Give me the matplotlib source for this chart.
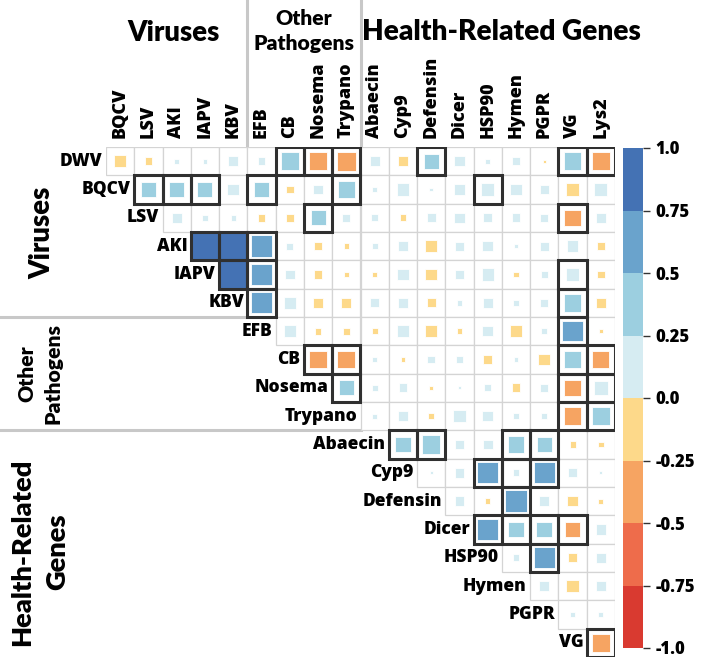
import numpy as np
import matplotlib.pyplot as plt
import matplotlib as mpl
from matplotlib.patches import Rectangle
from matplotlib.colors import ListedColormap, BoundaryNorm

# --------------------------------------------------------------
# Data
# --------------------------------------------------------------
row_labels = ['DWV', 'BQCV', 'LSV', 'AKI', 'IAPV', 'KBV', 'EFB', 'CB', 'Nosema',
              'Trypano', 'Abaecin', 'Cyp9', 'Defensin', 'Dicer', 'HSP90', 'Hymen',
              'PGPR', 'VG']
col_labels = ['BQCV', 'LSV', 'AKI', 'IAPV', 'KBV', 'EFB', 'CB', 'Nosema', 'Trypano',
              'Abaecin', 'Cyp9', 'Defensin', 'Dicer', 'HSP90', 'Hymen', 'PGPR',
              'VG', 'Lys2']

# upper triangle, row i starts at column i
corr_rows = [
    [-0.18, -0.08, 0.03, 0.03, 0.14, 0.08, 0.45, -0.45, -0.48, 0.13, -0.12, 0.31, 0.15, 0.03, 0.08, -0.01, 0.41, -0.45],
    [0.29, 0.30, 0.30, 0.18, 0.29, -0.08, 0.13, 0.40, 0.03, 0.20, 0.02, 0.18, 0.23, 0.18, 0.10, -0.20, 0.22],
    [0.13, 0.04, 0.04, -0.08, -0.09, 0.30, 0.08, 0.06, -0.06, 0.10, 0.15, 0.10, 0.10, 0.08, -0.35, 0.15],
    [0.95, 0.93, 0.62, 0.06, -0.08, -0.04, 0.05, 0.13, -0.18, 0.10, 0.15, 0.02, 0.10, 0.18, -0.08],
    [0.94, 0.60, 0.12, -0.09, -0.04, -0.04, 0.18, -0.18, 0.12, 0.20, -0.04, 0.06, 0.22, -0.08],
    [0.60, 0.20, -0.15, -0.14, 0.10, 0.15, -0.10, 0.04, 0.12, 0.05, 0.08, 0.40, -0.15],
    [0.20, -0.06, -0.06, -0.05, 0.20, -0.20, -0.04, 0.15, -0.18, 0.05, 0.55, -0.02],
    [-0.42, -0.42, 0.03, -0.03, 0.08, 0.05, -0.10, 0.03, -0.18, 0.37, -0.38],
    [0.30, 0.05, 0.10, -0.02, 0.01, 0.06, -0.10, 0.08, -0.35, 0.24],
    [0.03, 0.12, -0.05, 0.20, 0.15, 0.04, 0.05, -0.40, 0.45],
    [0.32, 0.45, 0.13, 0.13, 0.37, 0.30, -0.05, -0.04],
    [0.01, 0.13, 0.58, 0.06, 0.60, 0.10, 0.01],
    [0.13, -0.04, 0.68, 0.13, -0.15, -0.03],
    [0.60, 0.33, 0.33, -0.30, 0.15],
    [0.06, 0.60, -0.10, 0.13],
    [0.13, -0.20, 0.13],
    [0.04, 0.03],
    [-0.40],
]

significant = [
    ('DWV', 'CB'), ('DWV', 'Nosema'), ('DWV', 'Trypano'), ('DWV', 'Defensin'),
    ('DWV', 'VG'), ('DWV', 'Lys2'),
    ('BQCV', 'LSV'), ('BQCV', 'AKI'), ('BQCV', 'IAPV'), ('BQCV', 'EFB'),
    ('BQCV', 'Trypano'), ('BQCV', 'HSP90'),
    ('LSV', 'Nosema'), ('LSV', 'VG'),
    ('AKI', 'IAPV'), ('AKI', 'KBV'), ('AKI', 'EFB'),
    ('IAPV', 'KBV'), ('IAPV', 'EFB'), ('IAPV', 'VG'),
    ('KBV', 'EFB'), ('KBV', 'VG'),
    ('EFB', 'VG'),
    ('CB', 'Nosema'), ('CB', 'Trypano'), ('CB', 'VG'), ('CB', 'Lys2'),
    ('Nosema', 'Trypano'), ('Nosema', 'VG'), ('Nosema', 'Lys2'),
    ('Trypano', 'VG'), ('Trypano', 'Lys2'),
    ('Abaecin', 'Cyp9'), ('Abaecin', 'Defensin'), ('Abaecin', 'Hymen'), ('Abaecin', 'PGPR'),
    ('Cyp9', 'HSP90'), ('Cyp9', 'Hymen'), ('Cyp9', 'PGPR'),
    ('Defensin', 'Hymen'),
    ('Dicer', 'HSP90'), ('Dicer', 'Hymen'), ('Dicer', 'PGPR'), ('Dicer', 'VG'),
    ('HSP90', 'PGPR'),
    ('VG', 'Lys2'),
]

bin_colors = ['#d93a30', '#ee6c4b', '#f6a462', '#fdd98a',
              '#d6ecf2', '#9ccfe0', '#6aa3cc', '#4472b4']
bounds = [-1.0, -0.75, -0.5, -0.25, 0.0, 0.25, 0.5, 0.75, 1.0]
cbar_labels = ['-1.0', '-0.75', '-0.5', '-0.25', '0.0', '0.25', '0.5', '0.75', '1.0']

# --------------------------------------------------------------
# Figure
# --------------------------------------------------------------
tick_font = 'Open Sans'
tick_weight = 'heavy'
head_font = 'Lato'

cmap = ListedColormap(bin_colors)
norm = BoundaryNorm(bounds, cmap.N)

W, H = 704, 671
fig = plt.figure(figsize=(W / 100, H / 100), dpi=100)
ax = fig.add_axes([106 / W, 1 - 657 / H, 509 / W, 510 / H])
n = len(col_labels)
ax.set_xlim(0, n)
ax.set_ylim(n, 0)
ax.axis('off')

for i, vals in enumerate(corr_rows):
    for k, r in enumerate(vals):
        j = i + k
        ax.add_patch(Rectangle((j, i), 1, 1, facecolor='white', edgecolor='#d4d4d4',
                               lw=0.9, zorder=1))
        side = np.sqrt(abs(r)) * 0.97
        ax.add_patch(Rectangle((j + 0.5 - side / 2, i + 0.5 - side / 2), side, side,
                               facecolor=cmap(norm(r)), edgecolor='white', lw=0.6,
                               zorder=2))

for rname, cname in significant:
    i = row_labels.index(rname)
    j = col_labels.index(cname)
    ax.add_patch(Rectangle((j, i), 1, 1, facecolor='none', edgecolor='#303030',
                           lw=2.2, zorder=3))

# row and column labels
for i, name in enumerate(row_labels):
    ax.text(i - 0.12, i + 0.5, name, ha='right', va='center', fontsize=12.5,
            fontweight=tick_weight, family=tick_font)
for j, name in enumerate(col_labels):
    ax.text(j + 0.5, -0.3, name, ha='center', va='bottom', rotation=90,
            fontsize=13, fontweight=tick_weight, family=tick_font)

# group separators
sep_kw = dict(color='#c8c8c8', lw=2.2, clip_on=False, zorder=0)
top = -147 / 28.3
left = -106 / 28.3
ax.plot([5, 5], [top, 0], **sep_kw)
ax.plot([9, 9], [top, 0], **sep_kw)
ax.plot([left, 5], [6, 6], **sep_kw)
ax.plot([left, 9], [10, 10], **sep_kw)

# group headings
head_kw = dict(fontweight='heavy', family=head_font, rotation_mode='anchor')
ax.text(2.4, -3.75, 'Viruses', ha='center', va='baseline', fontsize=19.8, **head_kw)
ax.text(7, -4.31, 'Other', ha='center', va='baseline', fontsize=15.2, **head_kw)
ax.text(7, -3.43, 'Pathogens', ha='center', va='baseline', fontsize=15.2, **head_kw)
ax.text(14.0, -3.78, 'Health-Related Genes', ha='center', va='baseline',
        fontsize=20.2, **head_kw)
ax.text(-1.98, 3.04, 'Viruses', ha='center', va='baseline', fontsize=19.8,
        rotation=90, **head_kw)
ax.text(-2.58, 8.0, 'Other', ha='center', va='baseline', fontsize=15.2,
        rotation=90, **head_kw)
ax.text(-1.66, 8.0, 'Pathogens', ha='center', va='baseline', fontsize=15.2,
        rotation=90, **head_kw)
ax.text(-2.69, 14.29, 'Health-Related', ha='center', va='baseline', fontsize=19.6,
        rotation=90, **head_kw)
ax.text(-1.45, 14.29, 'Genes', ha='center', va='baseline', fontsize=19.6,
        rotation=90, **head_kw)

# colorbar
cax = fig.add_axes([623 / W, 1 - 648 / H, 20 / W, 500 / H])
sm = mpl.cm.ScalarMappable(cmap=cmap, norm=norm)
cb = fig.colorbar(sm, cax=cax, ticks=bounds)
cb.outline.set_visible(False)
cb.ax.set_yticklabels(cbar_labels)
cb.ax.tick_params(length=5, width=1, color='#333333', pad=4)
for t in cb.ax.get_yticklabels():
    t.set_fontweight(tick_weight)
    t.set_fontsize(12)
    t.set_family(tick_font)

fig.savefig('out.png', dpi=100)
